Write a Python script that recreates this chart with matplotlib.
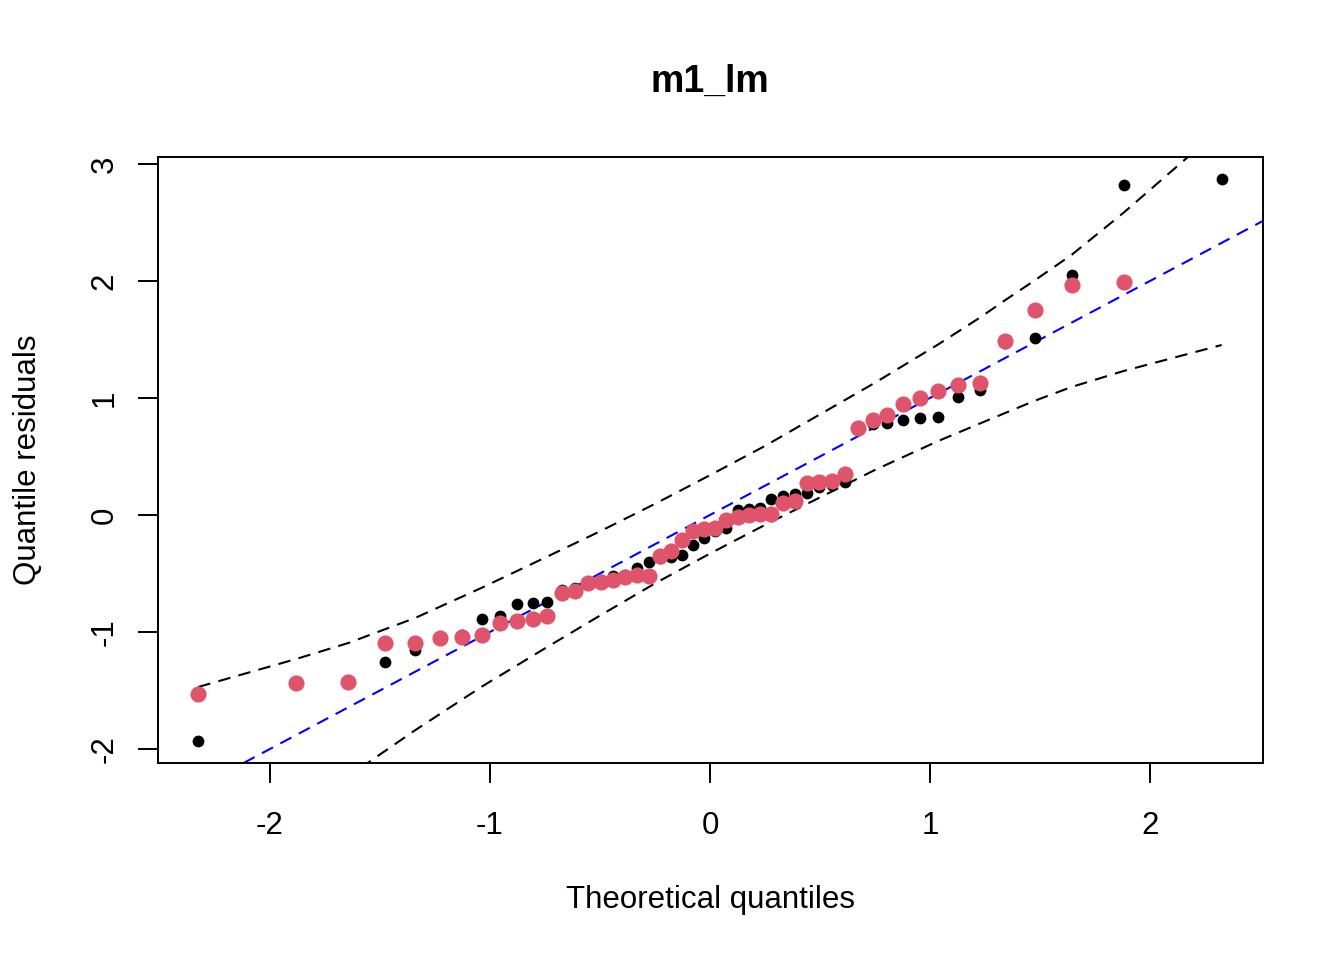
import numpy as np
import matplotlib
matplotlib.use("Agg")
import matplotlib.pyplot as plt

plt.rcParams['font.family'] = ['Liberation Sans', 'DejaVu Sans']

# theoretical quantiles (x positions of the points)
theo = [-2.326, -1.881, -1.645, -1.476, -1.341, -1.227, -1.126, -1.036, -0.954, -0.878,
        -0.806, -0.739, -0.674, -0.613, -0.553, -0.496, -0.440, -0.385, -0.332, -0.279,
        -0.228, -0.176, -0.126, -0.075, -0.025, 0.025, 0.075, 0.126, 0.176, 0.228,
        0.279, 0.332, 0.385, 0.440, 0.496, 0.553, 0.613, 0.674, 0.739, 0.806,
        0.878, 0.954, 1.036, 1.126, 1.227, 1.341, 1.476, 1.645, 1.881, 2.326]

# quantile residuals, black series
resid_black = [-1.93, -1.44, -1.43, -1.26, -1.15, -1.05, -1.03, -0.89, -0.86, -0.76,
               -0.75, -0.74, -0.64, -0.62, -0.59, -0.56, -0.52, -0.51, -0.45, -0.40,
               -0.37, -0.36, -0.34, -0.26, -0.20, -0.14, -0.11, 0.04, 0.05, 0.06,
               0.14, 0.16, 0.18, 0.19, 0.24, 0.26, 0.28, 0.74, 0.78, 0.79,
               0.81, 0.83, 0.84, 1.01, 1.07, 1.47, 1.51, 2.05, 2.82, 2.87]

# quantile residuals, red series (last one is outside the plot)
resid_red = [-1.53, -1.44, -1.43, -1.09, -1.09, -1.05, -1.04, -1.03, -0.92, -0.91,
             -0.89, -0.86, -0.67, -0.65, -0.58, -0.57, -0.56, -0.53, -0.51, -0.52,
             -0.35, -0.31, -0.21, -0.14, -0.12, -0.11, -0.04, -0.02, 0.00, 0.01,
             0.01, 0.10, 0.12, 0.27, 0.28, 0.29, 0.35, 0.74, 0.81, 0.855,
             0.95, 1.00, 1.06, 1.11, 1.13, 1.49, 1.75, 1.97, 1.99, np.nan]

# envelope (dashed black)
env_x = [-2.326, -1.881, -1.645, -1.476, -1.341, -1.036, -0.75, -0.5, -0.25, 0.0,
         0.25, 0.5, 0.75, 1.036, 1.227, 1.341, 1.476, 1.645, 1.881, 2.326]
upper_y = [-1.47, -1.231, -1.095, -0.976, -0.881, -0.621, -0.365, -0.14, 0.095, 0.34,
           0.59, 0.86, 1.13, 1.456, 1.687, 1.835, 2.005, 2.225, 2.585, 3.31]
lower_y = [-3.28, -2.581, -2.235, -2.016, -1.841, -1.466, -1.14, -0.86, -0.585, -0.33,
           -0.085, 0.15, 0.385, 0.631, 0.782, 0.871, 0.976, 1.095, 1.231, 1.453]

# reference line
line_intercept = 0.0
line_slope = 1.0

fig = plt.figure(figsize=(13.44, 9.6), dpi=100)
ax = fig.add_axes([158/1344, 1-763/960, (1263-158)/1344, (763-157)/960])

dash = (0, (6, 4))
ax.plot(env_x, upper_y, color='black', lw=1.5, linestyle=dash)
ax.plot(env_x, lower_y, color='black', lw=1.5, linestyle=dash)
ax.axline((0, line_intercept), slope=line_slope, color='blue', lw=1.5, linestyle=dash)

ax.scatter(theo, resid_black, s=72, color='black', linewidths=0, zorder=3)
ax.scatter(theo, resid_red, s=135, color='#DF536B', linewidths=0, zorder=4)

ax.set_xlim(-2.509, 2.514)
ax.set_ylim(-2.12, 3.06)
ax.set_xticks([-2, -1, 0, 1, 2])
ax.set_yticks([-2, -1, 0, 1, 2, 3])
ax.set_xticklabels(['-2', '-1', '0', '1', '2'])
ax.set_yticklabels(['-2', '-1', '0', '1', '2', '3'])

for sp in ax.spines.values():
    sp.set_linewidth(1.4)
ax.tick_params(axis='both', length=14.5, width=1.4, labelsize=22.5)
ax.tick_params(axis='x', pad=20)
ax.tick_params(axis='y', pad=13, labelrotation=90)
for lab in ax.get_yticklabels():
    lab.set_verticalalignment('center')

fig.text(710/1344, 1-92/960, 'm1_lm', fontsize=27, fontweight='bold', ha='center', va='baseline')
fig.text(710/1344, 1-908/960, 'Theoretical quantiles', fontsize=22.5, ha='center', va='baseline')
fig.text(36/1344, 1-460/960, 'Quantile residuals', fontsize=22.5, rotation=90,
         rotation_mode='anchor', ha='center', va='baseline')

fig.savefig('out.png', dpi=100)
